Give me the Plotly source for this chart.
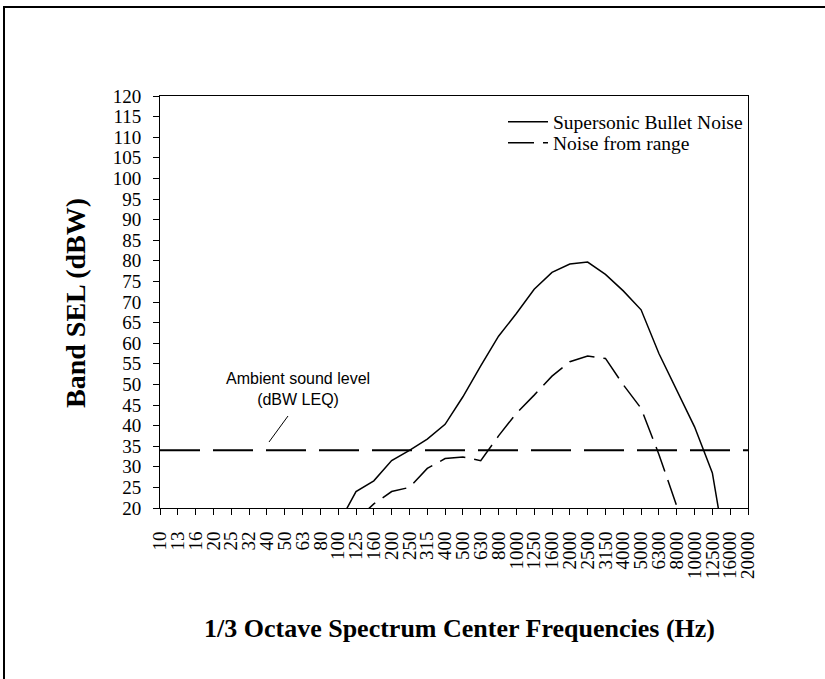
import plotly.graph_objects as go

freq_labels = ["10", "13", "16", "20", "25", "32", "40", "50", "63", "80", "100", "125",
               "160", "200", "250", "315", "400", "500", "630", "800", "1000", "1250",
               "1600", "2000", "2500", "3150", "4000", "5000", "6300", "8000", "10000",
               "12500", "16000", "20000"]

bullet_noise = [None, None, None, None, None, None, None, None, None, None,
                16, 24, 26.6, 31.5, 34, 36.7, 40.3, 47, 54.5, 61.7, 67.2, 73.1,
                77.2, 79.2, 79.7, 76.7, 72.7, 68.1, 57.5, 48.6, 39.7, 28.5, 3, None]

range_noise = [None, None, None, None, None, None, None, None, None, None,
               None, 17, 21, 24, 25, 29.6, 32, 32.4, 31.5, 37.5, 43, 47.4,
               52, 55.5, 56.9, 56.3, 49.9, 44.2, 33, 20.5, 10, None, None, None]

ambient_level = 34

y_ticks = list(range(20, 121, 5))

SERIF = "Liberation Serif"
SANS = "Liberation Sans"

fig = go.Figure()

fig.add_trace(go.Scatter(
    x=freq_labels, y=[ambient_level] * len(freq_labels), mode="lines",
    line=dict(color="black", width=2, dash="40px,13px"),
    showlegend=False, hoverinfo="skip"))

fig.add_trace(go.Scatter(
    x=freq_labels, y=bullet_noise, mode="lines", name="Supersonic Bullet Noise",
    line=dict(color="black", width=1.5), connectgaps=False, legend="legend"))

fig.add_trace(go.Scatter(
    x=freq_labels, y=range_noise, mode="lines", name="Noise from range",
    line=dict(color="black", width=1.5, dash="26px,9px"), connectgaps=False,
    legend="legend2"))

legend_style = dict(xanchor="left", yanchor="middle", bgcolor="rgba(0,0,0,0)",
                    font=dict(family=SERIF, size=19.5), itemwidth=40,
                    borderwidth=0)

fig.update_layout(
    width=825, height=679,
    margin=dict(l=160, r=77, t=96, b=171),
    paper_bgcolor="white", plot_bgcolor="white",
    font=dict(family=SERIF, color="black", size=18),
    showlegend=True,
    legend=dict(x=(503 - 160) / 588, y=(508 - 122) / 412, **legend_style),
    legend2=dict(x=(503 - 160) / 588, y=(508 - 143) / 412, **legend_style),
    xaxis=dict(
        type="category", categoryorder="array", categoryarray=freq_labels,
        range=[0, len(freq_labels) - 1],
        tickmode="array", tickvals=freq_labels, ticktext=freq_labels,
        showgrid=False, zeroline=False,
        showline=True, linecolor="black", linewidth=1, mirror=True,
        ticks="outside", ticklen=6, tickwidth=1, tickcolor="black",
        tickangle=-90, tickfont=dict(family=SERIF, size=19),
        ticklabelstandoff=9,
    ),
    yaxis=dict(
        range=[20, 120], tickvals=y_ticks,
        showgrid=False, zeroline=False,
        showline=True, linecolor="black", linewidth=1, mirror=True,
        ticks="outside", ticklen=6, tickwidth=1, tickcolor="black",
        tickfont=dict(family=SERIF, size=19),
        ticklabelstandoff=8,
    ),
    annotations=[
        dict(text="<b>Band SEL (dBW)</b>", xref="paper", yref="paper",
             x=(75 - 160) / 588, y=(508 - 303) / 412, xanchor="center",
             yanchor="middle", textangle=-90, showarrow=False,
             font=dict(family=SERIF, size=28)),
        dict(text="<b>1/3 Octave Spectrum Center Frequencies (Hz)</b>",
             xref="paper", yref="paper", x=(459 - 160) / 588, y=(508 - 628) / 412,
             xanchor="center", yanchor="middle", showarrow=False,
             font=dict(family=SERIF, size=26)),
        dict(text="Ambient sound level<br>(dBW LEQ)", xref="paper", yref="paper",
             x=(298 - 160) / 588, y=(508 - 389) / 412, xanchor="center",
             yanchor="middle", showarrow=False, align="center",
             font=dict(family=SANS, size=16)),
    ],
    shapes=[
        dict(type="line", xref="paper", yref="paper",
             x0=(269 - 160) / 588, y0=(508 - 442) / 412,
             x1=(288 - 160) / 588, y1=(508 - 416) / 412,
             line=dict(color="black", width=1)),
        dict(type="rect", xref="paper", yref="paper",
             x0=(4 - 160) / 588, y0=(508 - 700) / 412,
             x1=(840 - 160) / 588, y1=(508 - 7) / 412,
             line=dict(color="black", width=2)),
    ],
)

fig.write_html("out.html", config={"displayModeBar": False},
               post_script="document.body.style.margin='0px';document.body.style.padding='0px';")
